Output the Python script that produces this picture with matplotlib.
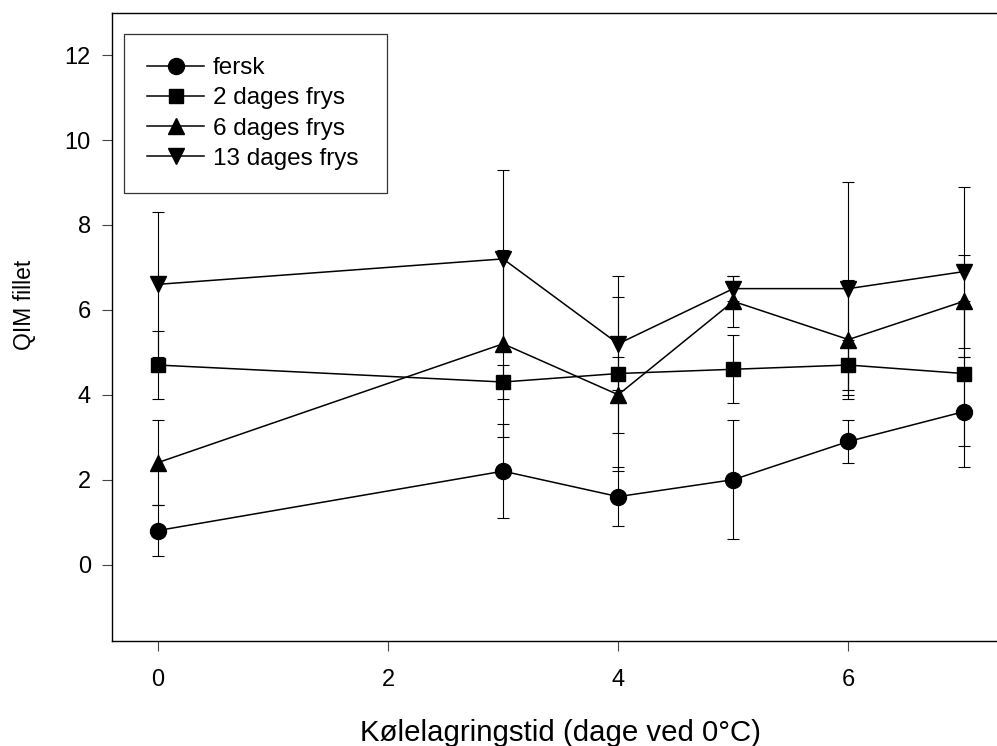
import numpy as np
import matplotlib
matplotlib.use("Agg")
import matplotlib.pyplot as plt

plt.rcParams['font.family'] = ['Liberation Sans', 'DejaVu Sans']

# Data
days = [0, 3, 4, 5, 6, 7]
labels = ["fersk", "2 dages frys", "6 dages frys", "13 dages frys"]
markers = ["o", "s", "^", "v"]
msizes = [11.5, 10.3, 11.5, 11.5]

fersk = [0.8, 2.2, 1.6, 2.0, 2.9, 3.6]
fersk_err = [0.6, 1.1, 0.7, 1.4, 0.5, 1.3]
frys2 = [4.7, 4.3, 4.5, 4.6, 4.7, 4.5]
frys2_err = [0.8, 0.4, 2.3, 0.8, 0.6, 1.7]
frys6 = [2.4, 5.2, 4.0, 6.2, 5.3, 6.2]
frys6_err = [1.0, 2.2, 0.9, 0.6, 1.4, 1.1]
frys13 = [6.6, 7.2, 5.2, 6.5, 6.5, 6.9]
frys13_err = [1.7, 2.1, 1.1, 0.3, 2.5, 2.0]

series = [(fersk, fersk_err), (frys2, frys2_err), (frys6, frys6_err), (frys13, frys13_err)]

fig = plt.figure(figsize=(9.97, 7.46), dpi=100)
ax = fig.add_axes([0.112, 0.1408, 0.888, 0.8422])

for (vals, err), lab, m, ms in zip(series, labels, markers, msizes):
    # error bars first, thin
    ax.errorbar(days, vals, yerr=err, fmt="none", ecolor="black",
                elinewidth=0.8, capsize=4.5, capthick=0.8, zorder=2)
    ax.plot(days, vals, color="black", marker=m, markersize=ms,
            linewidth=1.1, label=lab, zorder=3)

ax.set_xlim(-0.4, 7.29)
ax.set_ylim(-1.8, 13)
ax.set_xticks([0, 2, 4, 6])
ax.set_yticks([0, 2, 4, 6, 8, 10, 12])

ax.tick_params(direction="out", length=7, width=0.8, color="#444444",
               labelsize=17)
ax.tick_params(axis="x", pad=13)
ax.tick_params(axis="y", pad=8)
ax.spines["right"].set_visible(False)
for s in ["left", "bottom", "top"]:
    ax.spines[s].set_linewidth(1.0)

fig.text(560 / 997, 1 - 741 / 746, "Kølelagringstid (dage ved 0°C)",
         ha="center", va="baseline", fontsize=21.2)
fig.text(24 / 997, 1 - 305 / 746, "QIM fillet", rotation=90,
         ha="center", va="center", fontsize=16.5)

leg = ax.legend(loc="upper left", bbox_to_anchor=(0.0142, 0.966, 0.2964, 0.0),
                mode="expand", fontsize=17.5, frameon=True, fancybox=False,
                numpoints=1, handlelength=2.35, handletextpad=0.35,
                labelspacing=0.34, borderpad=0.95, borderaxespad=0)
leg.get_frame().set_edgecolor("black")
leg.get_frame().set_linewidth(0.9)

fig.savefig("out.png", dpi=100)
